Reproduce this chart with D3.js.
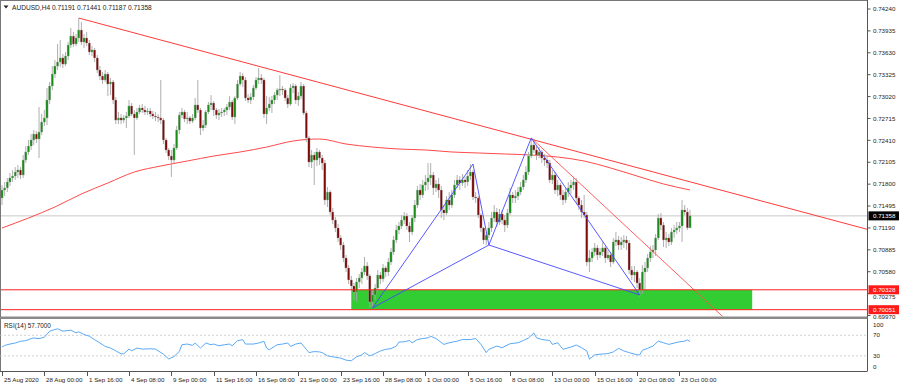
<!DOCTYPE html>
<html><head><meta charset="utf-8">
<script src="https://cdn.jsdelivr.net/npm/d3@7"></script>
<style>body{margin:0;background:#fff}svg{display:block}text{font-family:"Liberation Sans",Arial,sans-serif;fill:#222}</style>
</head><body>
<svg id="c" width="900" height="386"></svg>
<script>
const symbolTitle = "AUDUSD,H4";
const lastQuote = ["0.71191","0.71441","0.71187","0.71358"];
const closes = [0.71718,0.71747,0.71830,0.71886,0.71913,0.71969,0.71997,0.71927,0.72136,0.72248,
0.72331,0.72415,0.72498,0.72429,0.72526,0.72665,0.72722,0.72972,0.73167,0.73334,
0.73445,0.73501,0.73558,0.73473,0.73585,0.73738,0.73863,0.73752,0.73836,0.73947,
0.73780,0.73836,0.73766,0.73641,0.73669,0.73558,0.73390,0.73306,0.73251,0.73334,
0.73195,0.73223,0.72972,0.72693,0.72722,0.72693,0.72722,0.72749,0.72889,0.72777,
0.72722,0.72805,0.72861,0.72833,0.72805,0.72819,0.72777,0.72749,0.72735,0.72722,
0.72693,0.72415,0.72276,0.72192,0.72136,0.72304,0.72554,0.72763,0.72805,0.72708,
0.72722,0.72679,0.72722,0.72903,0.72833,0.72582,0.72623,0.72805,0.72903,0.72930,
0.72833,0.72763,0.72791,0.72805,0.72833,0.72874,0.72944,0.72735,0.73000,0.73195,
0.73306,0.73251,0.73000,0.72972,0.73014,0.73140,0.73251,0.73279,0.73251,0.72777,
0.72861,0.72916,0.72972,0.73041,0.73111,0.73125,0.73111,0.73000,0.72916,0.73140,
0.73167,0.72972,0.73027,0.73167,0.72791,0.72443,0.72108,0.72206,0.72136,0.72248,
0.72164,0.72094,0.71579,0.71690,0.71412,0.71300,0.71189,0.71050,0.70952,0.70771,
0.70632,0.70465,0.70381,0.70297,0.70437,0.70493,0.70576,0.70660,0.70521,0.70158,
0.70256,0.70353,0.70534,0.70479,0.70632,0.70576,0.70715,0.70855,0.71022,0.71161,
0.71217,0.71300,0.71356,0.71217,0.71133,0.71328,0.71509,0.71718,0.71649,0.71788,
0.71830,0.71886,0.71927,0.71747,0.71802,0.71718,0.71440,0.71398,0.71579,0.71509,
0.71649,0.71788,0.71858,0.71816,0.71858,0.71830,0.71913,0.71969,0.71621,0.71607,
0.71370,0.71189,0.71022,0.71091,0.71189,0.71328,0.71412,0.71272,0.71384,0.71300,
0.71230,0.71398,0.71649,0.71607,0.71634,0.71690,0.71760,0.71858,0.71969,0.72192,
0.72345,0.72276,0.72206,0.72248,0.72164,0.72136,0.72094,0.71858,0.71927,0.71718,
0.71788,0.71649,0.71579,0.71690,0.71747,0.71788,0.71830,0.71607,0.71509,0.71412,
0.71370,0.70715,0.70771,0.70855,0.70911,0.70813,0.70855,0.70911,0.70771,0.70813,
0.70715,0.70994,0.71022,0.70952,0.70994,0.71022,0.70980,0.70604,0.70534,0.70576,
0.70423,0.70325,0.70576,0.70632,0.70771,0.70855,0.70883,0.71050,0.71328,0.71230,
0.71022,0.71050,0.70994,0.71133,0.71161,0.71189,0.71217,0.71440,0.71412,0.71191,
0.71358];
const opens = [0.71607,0.71718,0.71747,0.71830,0.71886,0.71913,0.71969,0.71997,0.71927,0.72136,
0.72248,0.72331,0.72415,0.72498,0.72429,0.72526,0.72665,0.72722,0.72972,0.73167,
0.73334,0.73445,0.73501,0.73558,0.73473,0.73585,0.73738,0.73863,0.73752,0.73836,
0.73947,0.73780,0.73836,0.73766,0.73641,0.73669,0.73558,0.73390,0.73306,0.73251,
0.73334,0.73195,0.73223,0.72972,0.72693,0.72722,0.72693,0.72722,0.72749,0.72889,
0.72777,0.72722,0.72805,0.72861,0.72833,0.72805,0.72819,0.72777,0.72749,0.72735,
0.72722,0.72693,0.72415,0.72276,0.72192,0.72136,0.72304,0.72554,0.72763,0.72805,
0.72708,0.72722,0.72679,0.72722,0.72903,0.72833,0.72582,0.72623,0.72805,0.72903,
0.72930,0.72833,0.72763,0.72791,0.72805,0.72833,0.72874,0.72944,0.72735,0.73000,
0.73195,0.73306,0.73251,0.73000,0.72972,0.73014,0.73140,0.73251,0.73279,0.73251,
0.72777,0.72861,0.72916,0.72972,0.73041,0.73111,0.73125,0.73111,0.73000,0.72916,
0.73140,0.73167,0.72972,0.73027,0.73167,0.72791,0.72443,0.72108,0.72206,0.72136,
0.72248,0.72164,0.72094,0.71579,0.71690,0.71412,0.71300,0.71189,0.71050,0.70952,
0.70771,0.70632,0.70465,0.70381,0.70297,0.70437,0.70493,0.70576,0.70660,0.70521,
0.70158,0.70256,0.70353,0.70534,0.70479,0.70632,0.70576,0.70715,0.70855,0.71022,
0.71161,0.71217,0.71300,0.71356,0.71217,0.71133,0.71328,0.71509,0.71718,0.71649,
0.71788,0.71830,0.71886,0.71927,0.71747,0.71802,0.71718,0.71440,0.71398,0.71579,
0.71509,0.71649,0.71788,0.71858,0.71816,0.71858,0.71830,0.71913,0.71969,0.71621,
0.71607,0.71370,0.71189,0.71022,0.71091,0.71189,0.71328,0.71412,0.71272,0.71384,
0.71300,0.71230,0.71398,0.71649,0.71607,0.71634,0.71690,0.71760,0.71858,0.71969,
0.72192,0.72345,0.72276,0.72206,0.72248,0.72164,0.72136,0.72094,0.71858,0.71927,
0.71718,0.71788,0.71649,0.71579,0.71690,0.71747,0.71788,0.71830,0.71607,0.71509,
0.71412,0.71370,0.70715,0.70771,0.70855,0.70911,0.70813,0.70855,0.70911,0.70771,
0.70813,0.70715,0.70994,0.71022,0.70952,0.70994,0.71022,0.70980,0.70604,0.70534,
0.70576,0.70423,0.70325,0.70576,0.70632,0.70771,0.70855,0.70883,0.71050,0.71328,
0.71230,0.71022,0.71050,0.70994,0.71133,0.71161,0.71189,0.71217,0.71440,0.71412,
0.71191];
const highs = [0.71788,0.71830,0.71886,0.71955,0.71997,0.72038,0.72066,0.72038,0.72206,0.72331,
0.72415,0.72498,0.72554,0.72540,0.72874,0.72777,0.72833,0.73140,0.73223,0.73445,
0.73529,0.73752,0.73808,0.73613,0.73641,0.73780,0.73975,0.73919,0.73891,0.74114,
0.74058,0.73891,0.73919,0.73808,0.73725,0.73697,0.73599,0.73445,0.73362,0.73390,
0.73362,0.73279,0.73251,0.73014,0.72805,0.72777,0.72763,0.72805,0.72972,0.72930,
0.72833,0.72861,0.72903,0.72916,0.72889,0.72861,0.72861,0.72819,0.72805,0.72777,
0.73251,0.72722,0.72443,0.72304,0.72276,0.72359,0.72609,0.72805,0.72861,0.72833,
0.72805,0.72749,0.72777,0.73000,0.73251,0.72861,0.72693,0.72833,0.72944,0.73041,
0.72958,0.72861,0.72847,0.72861,0.72861,0.72916,0.73027,0.72972,0.73027,0.73251,
0.73362,0.73348,0.73292,0.73055,0.73069,0.73181,0.73292,0.73418,0.73334,0.73279,
0.73027,0.73014,0.73027,0.73083,0.73140,0.73320,0.73167,0.73140,0.73041,0.73195,
0.73209,0.73195,0.73083,0.73223,0.73195,0.72819,0.72470,0.72276,0.72248,0.72304,
0.72276,0.72206,0.72136,0.71760,0.71718,0.71468,0.71342,0.71244,0.71091,0.70994,
0.70813,0.70674,0.70521,0.70423,0.70493,0.70548,0.70632,0.70785,0.70715,0.70548,
0.70325,0.70409,0.70604,0.70576,0.70688,0.70660,0.70771,0.70911,0.71078,0.71230,
0.71272,0.71370,0.71412,0.71398,0.71272,0.71370,0.71579,0.71774,0.71802,0.71858,
0.71927,0.72094,0.72094,0.71969,0.71858,0.71886,0.71774,0.71509,0.71634,0.71690,
0.71718,0.71858,0.71927,0.71913,0.71941,0.71900,0.71997,0.72080,0.71997,0.71690,
0.71634,0.71398,0.71203,0.71133,0.71272,0.71412,0.71509,0.71468,0.71454,0.71440,
0.71370,0.71454,0.71747,0.71690,0.71718,0.71760,0.71830,0.71927,0.72052,0.72248,
0.72443,0.72429,0.72331,0.72317,0.72276,0.72220,0.72192,0.72136,0.71997,0.71969,
0.71858,0.71816,0.71718,0.71747,0.71830,0.71858,0.71886,0.71886,0.71634,0.71579,
0.71649,0.71412,0.70883,0.70911,0.70980,0.70952,0.70911,0.70994,0.70938,0.70883,
0.70855,0.71050,0.71133,0.71078,0.71064,0.71091,0.71078,0.71022,0.70660,0.70660,
0.70604,0.70493,0.70674,0.70715,0.70827,0.70938,0.70952,0.71105,0.71384,0.71398,
0.71272,0.71133,0.71105,0.71189,0.71230,0.71272,0.71272,0.71579,0.71509,0.71468,
0.71441];
const lows = [0.71509,0.71634,0.71690,0.71774,0.71830,0.71858,0.71886,0.71872,0.71886,0.72094,
0.72206,0.72276,0.72345,0.72373,0.72164,0.72484,0.72609,0.72623,0.72916,0.73111,
0.73279,0.73390,0.73431,0.73418,0.73445,0.73529,0.73697,0.73711,0.73725,0.73780,
0.73738,0.73697,0.73725,0.73599,0.73585,0.73501,0.73348,0.73251,0.73195,0.73223,
0.73027,0.73041,0.72916,0.72637,0.72637,0.72637,0.72651,0.72582,0.72722,0.72749,
0.72206,0.72693,0.72777,0.72791,0.72763,0.72763,0.72735,0.72708,0.72679,0.72665,
0.72637,0.72359,0.72234,0.72136,0.71900,0.72094,0.72276,0.72498,0.72722,0.72665,
0.72637,0.72637,0.72651,0.72693,0.72791,0.72484,0.72540,0.72582,0.72777,0.72833,
0.72749,0.72708,0.72693,0.72735,0.72749,0.72763,0.72833,0.72693,0.72637,0.72972,
0.73167,0.73153,0.72958,0.72930,0.72916,0.72972,0.73111,0.73195,0.73195,0.72722,
0.72637,0.72819,0.72791,0.72916,0.72972,0.73027,0.73041,0.72958,0.72861,0.72889,
0.73069,0.72916,0.72889,0.72986,0.72763,0.72387,0.72038,0.72025,0.71788,0.72052,
0.72066,0.71997,0.71509,0.71481,0.71370,0.71244,0.71133,0.70994,0.70883,0.70715,
0.70576,0.70409,0.70325,0.70186,0.70158,0.70353,0.70409,0.70534,0.70465,0.70075,
0.70089,0.70186,0.70297,0.70409,0.70437,0.70507,0.70521,0.70674,0.70813,0.70980,
0.71105,0.71175,0.71244,0.71161,0.70994,0.71091,0.71272,0.71468,0.71579,0.71607,
0.71704,0.71718,0.71788,0.71649,0.71690,0.71607,0.71328,0.71300,0.71370,0.71440,
0.71468,0.71607,0.71747,0.71718,0.71774,0.71747,0.71774,0.71858,0.71579,0.71537,
0.71328,0.71133,0.70966,0.70952,0.71050,0.71133,0.71272,0.71203,0.71230,0.71244,
0.71133,0.71189,0.71370,0.71537,0.71537,0.71579,0.71649,0.71718,0.71816,0.71927,
0.72164,0.72234,0.72136,0.72164,0.72094,0.72052,0.72025,0.71816,0.71802,0.71663,
0.71634,0.71579,0.71509,0.71537,0.71621,0.71663,0.71718,0.71537,0.71440,0.71328,
0.71328,0.70660,0.70576,0.70715,0.70799,0.70743,0.70771,0.70799,0.70701,0.70743,
0.70646,0.70688,0.70938,0.70883,0.70883,0.70911,0.70883,0.70548,0.70465,0.70437,
0.70353,0.70228,0.70270,0.70325,0.70576,0.70715,0.70771,0.70799,0.71022,0.71161,
0.70924,0.70911,0.70938,0.70952,0.71050,0.71105,0.71133,0.70994,0.71370,0.71161,
0.71187];

const timeTickIdx = [0,16,32,48,64,80,96,112,128,144,160,176,192,208,224,240,256];
const timeTickLabels = ["25 Aug 2020","28 Aug 00:00","1 Sep 16:00","4 Sep 08:00","9 Sep 00:00","11 Sep 16:00","16 Sep 08:00","21 Sep 00:00","23 Sep 16:00","28 Sep 08:00","1 Oct 00:00","5 Oct 16:00","8 Oct 08:00","13 Oct 00:00","15 Oct 16:00","20 Oct 08:00","23 Oct 00:00"];
const priceTicks = [0.74240,0.73935,0.73630,0.73325,0.73020,0.72715,0.72410,0.72105,0.71800,0.71495,0.71190,0.70885,0.70580,0.70275,0.69970];

const maIdx = [0,10,20,30,40,50,60,70,80,90,100,110,120,130,140,150,160,170,180,190,200,210,220,230,240,250,260];
const maVals = [0.71189,0.71328,0.71482,0.71663,0.71816,0.71969,0.72053,0.72122,0.72192,0.72248,0.72317,0.72401,0.72429,0.72359,0.72317,0.72289,0.72276,0.72248,0.72234,0.72220,0.72206,0.72178,0.72122,0.72025,0.71913,0.71802,0.71719];

const rsiIdx = [0,1,3,5,7,9,11,12,14,16,18,20,21,23,26,28,29,31,33,35,37,39,41,43,45,46,48,49,51,53,56,58,61,63,65,67,68,70,72,73,75,77,79,80,82,84,86,87,89,91,92,95,97,99,100,101,103,104,106,108,109,111,113,115,116,118,120,121,123,125,128,130,132,134,136,137,139,141,143,145,147,149,150,152,154,155,157,159,161,162,164,167,169,172,174,177,179,181,183,184,187,189,192,195,197,199,201,202,204,207,208,210,212,215,217,219,221,222,224,226,229,231,233,235,237,240,241,242,244,246,248,250,252,254,256,258,259,260];
const rsiVals = [47.0,50.3,52.9,54.9,58.2,59.5,63.5,64.7,63.5,66.1,77.9,81.2,82.5,77.9,79.9,74.7,76.6,71.4,68.1,61.5,55.0,48.4,45.1,39.8,33.9,33.9,43.1,39.8,45.1,43.1,43.7,43.1,33.2,24.0,28.6,38.5,51.6,52.9,50.3,54.9,45.1,54.9,51.6,52.9,49.6,51.6,52.9,49.6,59.5,61.5,52.9,52.9,54.9,58.2,45.1,41.8,48.4,51.6,52.9,54.9,48.4,52.9,54.9,42.7,36.3,38.3,37.6,36.3,30.0,28.1,25.6,21.7,20.5,28.1,31.9,36.3,30.0,34.4,39.5,42.7,44.0,49.0,56.7,57.3,59.8,55.4,61.7,63.7,64.9,68.1,63.7,52.2,55.4,58.6,61.7,61.7,63.7,52.2,36.3,42.7,49.0,45.9,53.5,55.4,59.8,64.9,74.4,64.9,61.7,59.8,52.2,55.4,42.7,47.1,51.0,45.9,39.5,23.6,31.9,33.2,34.4,37.6,44.6,39.5,36.3,31.9,31.9,40.8,44.6,49.0,58.6,55.4,52.2,54.8,57.3,58.6,61.0,57.7];
const rsiLevels = [70,30];
const rsiAxisLabels = [100,70,30,0];

const trendIdx = [29,201];
const trendPrice = [0.74114,0.72415];
const steepIdx = [200,247];
const steepPrice = [0.72443,0.70827];
const patternIdx = [140,178,184,200,241];
const patternPrice = [0.70075,0.72080,0.70952,0.72443,0.70256];
const patternSegments = [[0,1],[1,2],[2,3],[3,4],[0,2],[2,4]];
const zoneIdx = [132,283.5];
const zonePrice = [0.70328,0.70051];
const levelPrices = [0.70328,0.70051];
const levelLabels = ["0.70328","0.70051"];
const bidPrice = 0.71358;
const bidLabel = "0.71358";
const rsiTitle = "RSI(14) 57.7000";

const svg = d3.select("#c");
const W = 900, axisX = 867.5, mainBottom = 316.5, rsiTop = 319, rsiBottom = 371;
const x = d3.scaleLinear().domain([0,260]).range([2,690]);
const y = d3.scaleLinear().domain([0.69970,0.74240]).range([315.5,9]);
const yr = d3.scaleLinear().domain([0,100]).range([371.3,319.8]);

svg.append("rect").attr("width",W).attr("height",386).attr("fill","#fff");
const defs = svg.append("defs");
defs.append("clipPath").attr("id","cm").append("rect").attr("x",0).attr("y",0).attr("width",axisX).attr("height",mainBottom);
defs.append("clipPath").attr("id","cr").append("rect").attr("x",0).attr("y",rsiTop).attr("width",axisX).attr("height",rsiBottom-rsiTop);

const gm = svg.append("g").attr("clip-path","url(#cm)");
gm.append("line").attr("x1",0).attr("x2",axisX).attr("y1",y(bidPrice)).attr("y2",y(bidPrice)).attr("stroke","#c8c8c8").attr("stroke-width",1);
gm.append("rect").attr("x",x(zoneIdx[0])).attr("width",x(zoneIdx[1])-x(zoneIdx[0]))
  .attr("y",y(zonePrice[0])).attr("height",y(zonePrice[1])-y(zonePrice[0])).attr("fill","#32cd32");
gm.append("path").datum(maIdx.map((d,k)=>[d,maVals[k]]))
  .attr("d",d3.line().x(d=>x(d[0])).y(d=>y(d[1])).curve(d3.curveMonotoneX))
  .attr("fill","none").attr("stroke","#ff4a4a").attr("stroke-width",1);
const idx = d3.range(closes.length);
gm.selectAll("line.w").data(idx).join("line").attr("class","w")
  .attr("x1",i=>x(i)).attr("x2",i=>x(i)).attr("y1",i=>y(highs[i])).attr("y2",i=>y(lows[i]))
  .attr("stroke","#a6a6a6").attr("stroke-width",0.9);
gm.selectAll("rect.b").data(idx).join("rect").attr("class","b")
  .attr("x",i=>x(i)-1.1).attr("width",2.2)
  .attr("y",i=>y(Math.max(opens[i],closes[i])))
  .attr("height",i=>Math.max(0.8,Math.abs(y(opens[i])-y(closes[i]))))
  .attr("fill",i=>closes[i]>=opens[i]?"#1a8c1a":"#7d0a0a")
  .attr("stroke","#b0b0b0").attr("stroke-width",0.35);
function ray(ids,ps,xEnd){
  const x0=x(ids[0]),y0=y(ps[0]),x1=x(ids[1]),y1=y(ps[1]);
  const s=(y1-y0)/(x1-x0);
  return [x0,y0,xEnd,y0+s*(xEnd-x0)];
}
const t1 = ray(trendIdx,trendPrice,axisX);
gm.append("line").attr("x1",t1[0]).attr("y1",t1[1]).attr("x2",t1[2]).attr("y2",t1[3]).attr("stroke","#ff3b3b").attr("stroke-width",1);
const t2 = ray(steepIdx,steepPrice,800);
gm.append("line").attr("x1",t2[0]).attr("y1",t2[1]).attr("x2",t2[2]).attr("y2",t2[3]).attr("stroke","#ff4d4d").attr("stroke-width",0.9);
levelPrices.forEach(p=>{
  gm.append("line").attr("x1",0).attr("x2",axisX).attr("y1",y(p)).attr("y2",y(p)).attr("stroke","#ff2020").attr("stroke-width",1);
});
patternSegments.forEach(([a,b])=>{
  gm.append("line").attr("x1",x(patternIdx[a])).attr("y1",y(patternPrice[a]))
    .attr("x2",x(patternIdx[b])).attr("y2",y(patternPrice[b]))
    .attr("stroke","#4646ff").attr("stroke-width",0.9);
});

svg.append("line").attr("x1",0).attr("x2",axisX).attr("y1",0.5).attr("y2",0.5).attr("stroke","#777");
svg.append("line").attr("x1",0.5).attr("x2",0.5).attr("y1",0).attr("y2",rsiBottom).attr("stroke","#777");
svg.append("line").attr("x1",axisX).attr("x2",axisX).attr("y1",0).attr("y2",rsiBottom).attr("stroke","#555");
svg.append("rect").attr("x",0).attr("y",mainBottom).attr("width",axisX).attr("height",2.5).attr("fill","#8a8a8a");
svg.append("line").attr("x1",0).attr("x2",axisX).attr("y1",rsiBottom+0.5).attr("y2",rsiBottom+0.5).attr("stroke","#555");

svg.append("path").attr("d","M3.5,5.5 L8.5,5.5 L6,8.5 Z").attr("fill","#222");
svg.append("text").attr("x",12).attr("y",9.5).attr("font-size",6.6)
  .text(symbolTitle+"  "+lastQuote.join(" "));

// price axis with label boxes; ticks hidden under a box peek out just below it
const ga = svg.append("g");
const boxes = [[bidPrice,bidLabel,"#000"]].concat(levelPrices.map((p,k)=>[p,levelLabels[k],"#ff1a1a"]));
const boxH = 9;
priceTicks.forEach(p=>{
  ga.append("line").attr("x1",axisX).attr("x2",axisX+3).attr("y1",y(p)).attr("y2",y(p)).attr("stroke","#555");
  let ty = y(p);
  boxes.forEach(([bp])=>{
    const by = y(bp);
    if (Math.abs(ty-by) < boxH) ty = by + boxH/2 + 3.0;
  });
  ga.append("text").attr("x",873).attr("y",ty).attr("dy","0.35em").attr("font-size",6.2).text(p.toFixed(5));
});
boxes.forEach(([p,label,fill])=>{
  ga.append("rect").attr("x",axisX+1).attr("y",y(p)-boxH/2).attr("width",W-axisX-2).attr("height",boxH).attr("fill",fill);
  ga.append("text").attr("x",873).attr("y",y(p)).attr("dy","0.35em").attr("font-size",6.2).style("fill","#fff").text(label);
});

const gr = svg.append("g").attr("clip-path","url(#cr)");
rsiLevels.forEach(v=>{
  gr.append("line").attr("x1",0).attr("x2",axisX).attr("y1",yr(v)).attr("y2",yr(v))
    .attr("stroke","#c4c4c4").attr("stroke-dasharray","2,2").attr("stroke-width",0.8);
});
gr.append("path").datum(rsiIdx.map((d,k)=>[d,rsiVals[k]]))
  .attr("d",d3.line().x(d=>x(d[0])).y(d=>yr(d[1])))
  .attr("fill","none").attr("stroke","#5aa9f5").attr("stroke-width",1);
svg.append("text").attr("x",4).attr("y",328).attr("font-size",6.4).text(rsiTitle);
rsiAxisLabels.forEach(v=>{
  let yy = yr(v);
  if(v===100) yy = 325.2; if(v===0) yy = 367;
  svg.append("text").attr("x",873).attr("y",yy).attr("dy","0.35em").attr("font-size",6.2).text(v);
});

timeTickIdx.forEach((ti,k)=>{
  const xx = Math.round(x(ti))+0.5;
  svg.append("line").attr("x1",xx).attr("x2",xx).attr("y1",rsiBottom).attr("y2",rsiBottom+5).attr("stroke","#555");
  svg.append("text").attr("x",xx+1.5).attr("y",381.5).attr("font-size",6.2).text(timeTickLabels[k]);
});
</script>
</body></html>
